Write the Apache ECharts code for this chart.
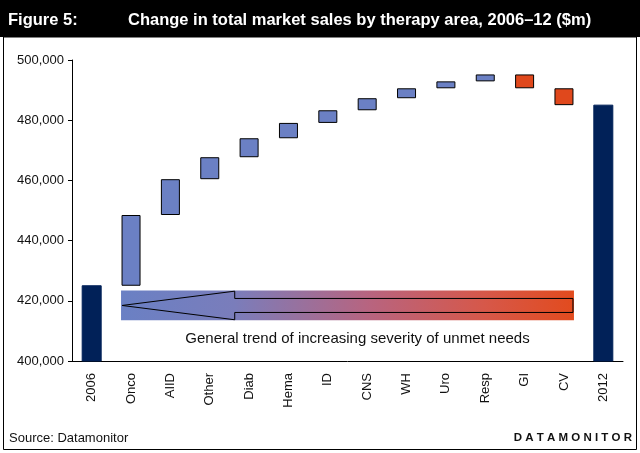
<!DOCTYPE html>
<html>
<head>
<meta charset="utf-8">
<script src="https://cdn.jsdelivr.net/npm/echarts@6/dist/echarts.min.js"></script>
<style>
html,body{margin:0;padding:0;background:#fff;}
#chart{width:640px;height:453px;}
</style>
</head>
<body>
<div id="chart"></div>
<script>
// ---- data ----
const categories = ['2006','Onco','AIID','Other','Diab','Hema','ID','CNS','WH','Uro','Resp','GI','CV','2012'];
const startTotal = 425000;
const changes = [23500, 11900, 7300, 6300, 5100, 4200, 4000, 3300, 2300, 2300, -4600, -5600];
const endTotal = 485000;
const yMin = 400000, yMax = 500000, yInterval = 20000;
const arrowBand = [413500, 423400]; // y-range of the trend arrow band (data units)

// ---- colours ----
const NAVY = '#012158', BLUE = '#6B80C4', RED = '#E0481C';

// ---- build waterfall ----
const baseData = [0];
const deltaData = [{value: startTotal, itemStyle: {color: NAVY, borderColor: NAVY}}];
let running = startTotal;
changes.forEach(c => {
  const low = Math.min(running, running + c);
  baseData.push(low);
  deltaData.push({value: Math.abs(c), itemStyle: {color: c >= 0 ? BLUE : RED, borderColor: '#000', borderWidth: 1}});
  running += c;
});
baseData.push(0);
deltaData.push({value: endTotal, itemStyle: {color: NAVY, borderColor: NAVY}});

const chart = echarts.init(document.getElementById('chart'), null, {renderer: 'canvas'});
const FONT = 'Arial, "Liberation Sans", sans-serif';

const option = {
  animation: false,
  backgroundColor: '#fff',
  grid: {left: 72, right: 17, top: 60, bottom: 92, containLabel: false},
  xAxis: {
    type: 'category',
    data: categories,
    axisLine: {lineStyle: {color: '#000', width: 1}},
    axisTick: {show: false},
    axisLabel: {rotate: 90, margin: 12, color: '#111', fontSize: 13, fontFamily: FONT, interval: 0}
  },
  yAxis: {
    type: 'value',
    min: yMin, max: yMax, interval: yInterval,
    axisLine: {show: true, lineStyle: {color: '#000', width: 1}},
    axisTick: {show: true, length: 4, lineStyle: {color: '#000'}},
    splitLine: {show: false},
    axisLabel: {
      margin: 8, color: '#111', fontSize: 13, fontFamily: FONT,
      formatter: v => v.toLocaleString('en-US')
    }
  },
  series: [
    {type: 'bar', stack: 'w', data: baseData, barWidth: 19, itemStyle: {color: 'transparent'}, silent: true},
    {type: 'bar', stack: 'w', data: deltaData, barWidth: 19}
  ]
};
chart.setOption(option);

// ---- annotations ----
const pOnco = chart.convertToPixel({xAxisIndex: 0, yAxisIndex: 0}, ['Onco', arrowBand[1]]);
const pCV = chart.convertToPixel({xAxisIndex: 0, yAxisIndex: 0}, ['CV', arrowBand[0]]);
const x0 = pOnco[0] - 10, x1 = pCV[0] + 10;
const yT = pOnco[1], yB = pCV[1];
const W = x1 - x0, H = yB - yT;
const ym = (yT + yB) / 2;
const hx = x0 + W * 0.251;
const shaftHalf = H * 0.235;
const headHalf = H * 0.48;

const title = 'Change in total market sales by therapy area, 2006\u201312 ($m)';
chart.setOption({
  graphic: [
    {type: 'rect', shape: {x: 0, y: 0, width: 640, height: 37}, style: {fill: '#000'}, z: 100},
    {type: 'text', x: 8, y: 20, style: {text: 'Figure 5:', fill: '#fff', font: 'bold 16.5px ' + FONT, textVerticalAlign: 'middle'}, z: 101},
    {type: 'text', x: 128, y: 20, style: {text: title, fill: '#fff', font: 'bold 16.5px ' + FONT, textVerticalAlign: 'middle'}, z: 101},
    {type: 'rect', shape: {x: 3.5, y: 37, width: 633, height: 412.5}, style: {fill: 'none', stroke: '#000', lineWidth: 1}, z: 100},
    {type: 'rect', shape: {x: x0, y: yT, width: W, height: H},
      style: {fill: new echarts.graphic.LinearGradient(0, 0, 1, 0, [
        {offset: 0, color: '#6A80C4'},
        {offset: 0.25, color: '#7A7DBB'},
        {offset: 0.55, color: '#B8647F'},
        {offset: 0.8, color: '#D6584A'},
        {offset: 1, color: '#E24B1E'}
      ])}, z: 50},
    {type: 'polygon', shape: {points: [
        [x0 + 1, ym], [hx, ym - headHalf], [hx, ym - shaftHalf], [x1 - 1, ym - shaftHalf],
        [x1 - 1, ym + shaftHalf], [hx, ym + shaftHalf], [hx, ym + headHalf]
      ]}, style: {fill: 'none', stroke: '#000', lineWidth: 1}, z: 51},
    {type: 'text', x: (x0 + x1) / 2 + 10, y: yB + 18, style: {text: 'General trend of increasing severity of unmet needs', fill: '#111', font: '15px ' + FONT, textAlign: 'center', textVerticalAlign: 'middle'}, z: 51},
    {type: 'text', x: 9, y: 438, style: {text: 'Source: Datamonitor', fill: '#111', font: '13px ' + FONT, textVerticalAlign: 'middle'}, z: 101},
    {type: 'text', x: 632, y: 438, style: {text: 'D A T A M O N I T O R', fill: '#111', font: 'bold 11.5px ' + FONT, textAlign: 'right', textVerticalAlign: 'middle'}, z: 101}
  ]
});
</script>
</body>
</html>
